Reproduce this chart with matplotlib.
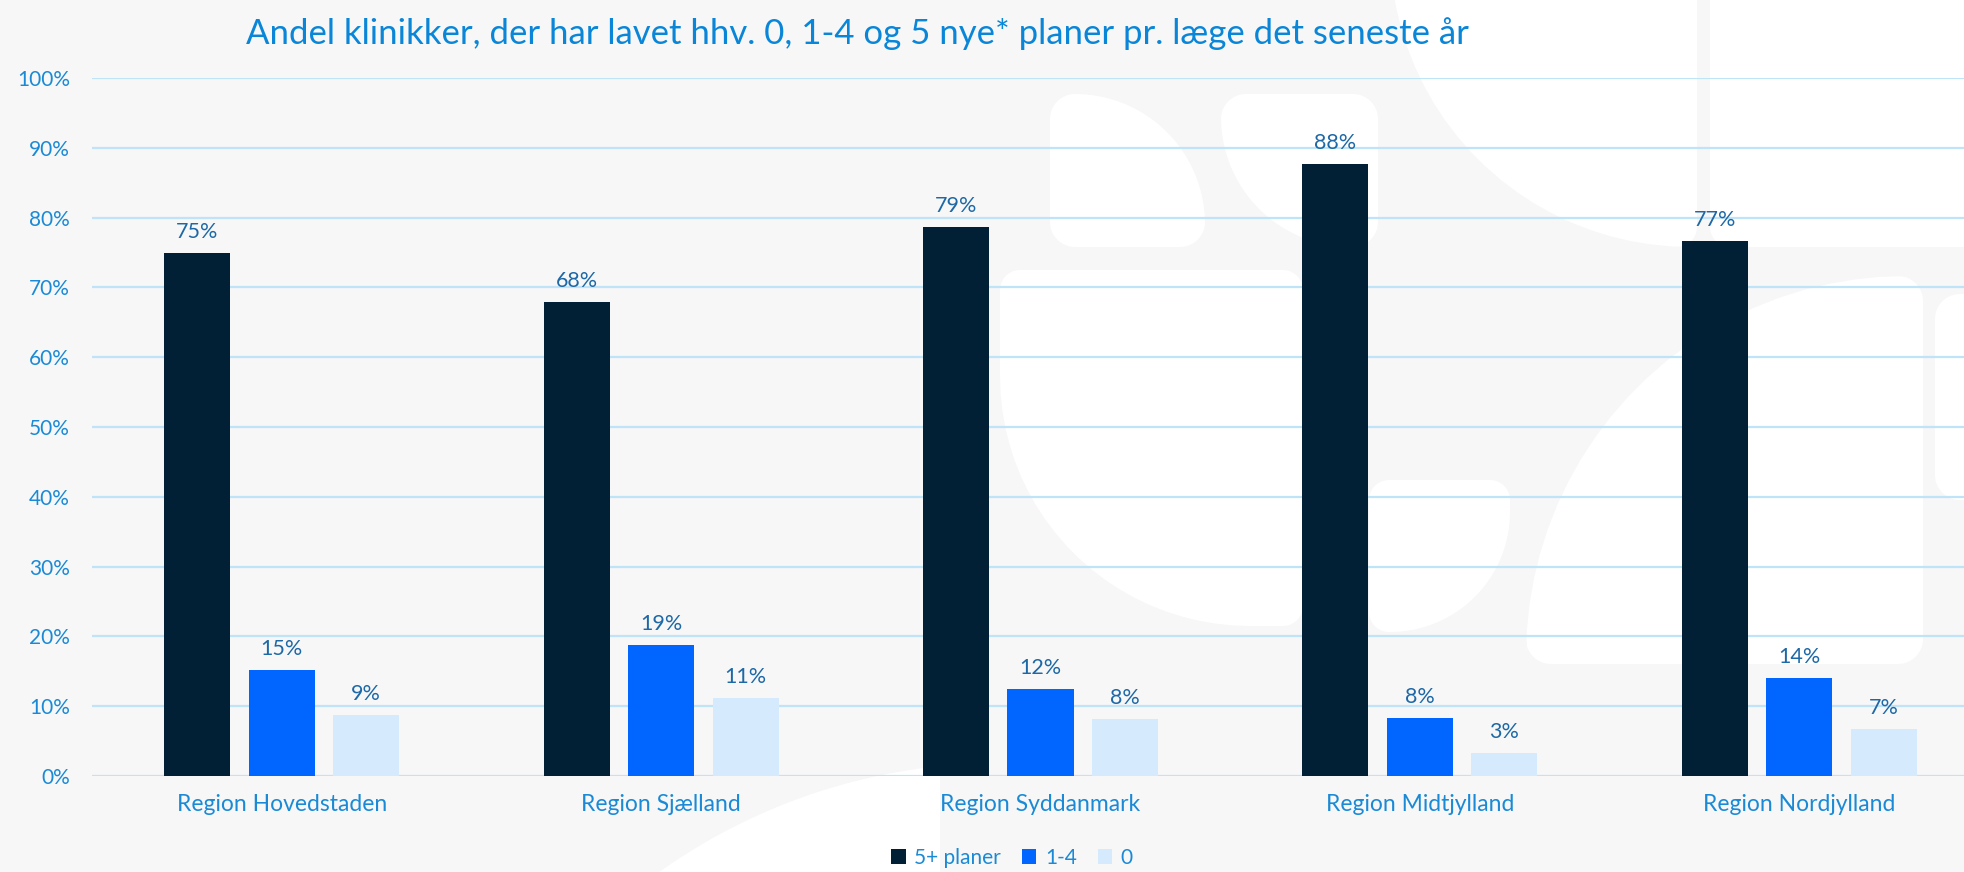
import numpy as np
import matplotlib
matplotlib.use("Agg")
import matplotlib.pyplot as plt
from matplotlib.path import Path
from matplotlib.patches import PathPatch, Patch
from matplotlib.transforms import Affine2D

# ---------------- data ----------------
categories = ["Region Hovedstaden", "Region Sjælland", "Region Syddanmark",
              "Region Midtjylland", "Region Nordjylland"]
series_names = ["5+ planer", "1-4", "0"]
plan_5plus = [74.9, 67.9, 78.6, 87.7, 76.7]
plan_1_4 = [15.2, 18.7, 12.4, 8.3, 14.0]
plan_0 = [8.7, 11.2, 8.1, 3.3, 6.7]
yticks = [0, 10, 20, 30, 40, 50, 60, 70, 80, 90, 100]
title = "Andel klinikker, der har lavet hhv. 0, 1-4 og 5 nye* planer pr. læge det seneste år"

colors = ["#022035", "#0066ff", "#d5eafc"]
title_col = "#0a86d8"
tick_col = "#1a8ad6"
label_col = "#1d68a6"
grid_col = "#bfe4f8"
bg = "#f7f7f7"

FONT = ["Lato", "DejaVu Sans"]
plt.rcParams["font.family"] = FONT

W, H = 1964, 872
fig = plt.figure(figsize=(W / 100, H / 100), dpi=100, facecolor=bg)

# ---------------- decorative background shapes (pixel coords, y down) ----------------
pix = Affine2D().scale(1, -1).translate(0, H)

def rounded(x0, y0, x1, y1, r):
    tl, tr, br, bl = r
    verts = []
    def arc(cx, cy, rad, a0, a1):
        for a in np.linspace(a0, a1, 24):
            verts.append((cx + rad * np.cos(a), cy + rad * np.sin(a)))
    arc(x0 + tl, y0 + tl, tl, np.pi, 1.5 * np.pi)
    arc(x1 - tr, y0 + tr, tr, 1.5 * np.pi, 2 * np.pi)
    arc(x1 - br, y1 - br, br, 0, 0.5 * np.pi)
    arc(x0 + bl, y1 - bl, bl, 0.5 * np.pi, np.pi)
    verts.append(verts[0])
    codes = [Path.MOVETO] + [Path.LINETO] * (len(verts) - 2) + [Path.CLOSEPOLY]
    return Path(verts, codes)

shapes = [
    rounded(1050, 94, 1205, 247, (25, 130, 25, 25)),
    rounded(1221, 94, 1378, 247, (25, 25, 25, 130)),
    rounded(1390, -200, 1697, 247, (20, 20, 20, 300)),
    rounded(1710, -200, 2100, 247, (20, 20, 20, 20)),
    rounded(1000, 270, 1303, 626, (20, 20, 20, 250)),
    rounded(1526, 276, 1923, 664, (380, 25, 25, 25)),
    rounded(1369, 480, 1510, 632, (20, 20, 120, 20)),
    rounded(1935, 294, 2100, 500, (25, 25, 25, 25)),
]
for p in shapes:
    fig.patches.append(PathPatch(p, transform=pix, facecolor="white", edgecolor="none", zorder=-5))
theta = np.linspace(0, 2 * np.pi, 200)
cx, cy, rr = 1000, 1350, 587
circ = [(min(cx + rr * np.cos(t), 940), cy + rr * np.sin(t)) for t in theta]
cpath = Path(circ + [circ[0]], [Path.MOVETO] + [Path.LINETO] * (len(circ) - 1) + [Path.CLOSEPOLY])
fig.patches.append(PathPatch(cpath, transform=pix, facecolor="white", edgecolor="none", zorder=-5))

# ---------------- axes ----------------
left, right = 92, 1989
top, bottom = 78, 776
ax = fig.add_axes([left / W, 1 - bottom / H, (right - left) / W, (bottom - top) / H])
ax.set_facecolor("none")
ax.set_zorder(2)

x = np.arange(len(categories))
step = 0.2227
bw = 0.174
data = [plan_5plus, plan_1_4, plan_0]
for i, (vals, c, name) in enumerate(zip(data, colors, series_names)):
    bars = ax.bar(x + (i - 1) * step, vals, width=bw, color=c, label=name, zorder=3)
    for b, v in zip(bars, vals):
        ax.annotate(f"{v:.0f}%", (b.get_x() + b.get_width() / 2, v),
                    xytext=(0, 8), textcoords="offset points", ha="center", va="bottom",
                    fontsize=15.5, color=label_col, zorder=4)

ax.set_xlim(-0.5, len(categories) - 0.5)
ax.set_ylim(0, 100)
ax.set_yticks(yticks)
ax.set_yticklabels([f"{t}%" for t in yticks])
ax.set_xticks(x)
ax.set_xticklabels(categories)
ax.tick_params(axis="y", length=0, pad=16, labelsize=15, labelcolor=tick_col)
ax.tick_params(axis="x", length=0, pad=13, labelsize=16.5, labelcolor=tick_col)
ax.grid(axis="y", color=grid_col, linewidth=1.6, zorder=1)
ax.set_axisbelow(True)
for s in ax.spines.values():
    s.set_visible(False)

fig.text(857 / W, 1 - 34 / H, title, ha="center", va="center", fontsize=25, color=title_col)

handles = [Patch(facecolor=c, edgecolor="none") for c in colors]
fig.legend(handles, series_names, loc="center", bbox_to_anchor=(1012 / W, 1 - 858 / H),
           ncol=3, frameon=False, fontsize=15, labelcolor=tick_col,
           handlelength=0.7, handleheight=0.7, handletextpad=0.4, columnspacing=1.0,
           borderpad=0, borderaxespad=0)

fig.savefig("out.png", dpi=100, facecolor=bg)
